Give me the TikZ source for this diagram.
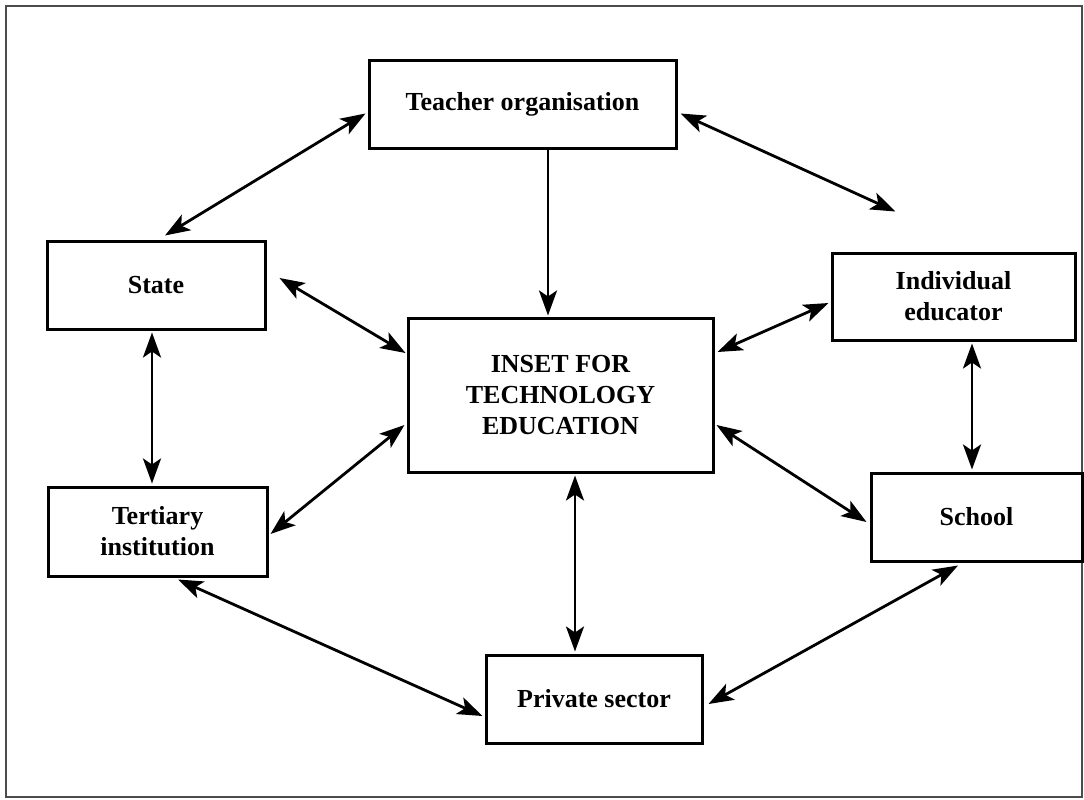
\documentclass[tikz,border=0pt]{standalone}
\usepackage{fontspec}
\setmainfont{Liberation Serif}
\usetikzlibrary{arrows.meta}
\begin{document}
\begin{tikzpicture}[x=1pt,y=-1pt,
  box/.style={draw, line width=3pt, rectangle, inner sep=0pt, align=center,
    font=\bfseries\fontsize{26}{31}\selectfont},
  link/.style={line width=2.8pt, {Stealth[length=25pt,width=18pt,inset=6pt]}-{Stealth[length=25pt,width=18pt,inset=6pt]}},
  oneway/.style={line width=2.8pt, -{Stealth[length=25pt,width=18pt,inset=6pt]}}]
  \useasboundingbox (0,0) rectangle (1084,800);
  % outer frame
  \draw[line width=1.5pt, black!70] (6,6) rectangle (1082,797);

  % boxes
  \node[box, minimum width=307pt, minimum height=87pt] (T) at (522.5,104.5) {Teacher organisation};
  \node[box, minimum width=218pt, minimum height=88pt] (S) at (156,285) {State};
  \node[box, minimum width=243pt, minimum height=87pt] (I) at (953.5,296.5) {Individual\\educator};
  \node[box, minimum width=305pt, minimum height=154pt] (N) at (560.5,395) {INSET FOR\\TECHNOLOGY\\EDUCATION};
  \node[box, minimum width=219pt, minimum height=89pt] (R) at (157.5,531.5) {Tertiary\\institution};
  \node[box, minimum width=211pt, minimum height=88pt] (C) at (976.5,517) {School};
  \node[box, minimum width=216pt, minimum height=88pt] (P) at (594,699) {Private sector};

  % free end near the individual educator box
  \coordinate (Ifree) at ([xshift=-58pt,yshift=40pt]I.north);

  % connectors
  \draw[link] ([xshift=-2pt,yshift=-9pt]T.west) -- ([xshift=9pt,yshift=4pt]S.north);
  \draw[link] ([xshift=3pt,yshift=-9pt]T.east) -- (Ifree);
  \draw[oneway] ([xshift=25.5pt]T.south) -- ([xshift=-12.5pt,yshift=1pt]N.north);
  \draw[link] ([xshift=13pt,yshift=7pt]S.east) -- ([xshift=-1pt,yshift=42pt]N.west);
  \draw[link] ([xshift=-2pt,yshift=-6.5pt]I.west) -- ([xshift=3pt,yshift=43pt]N.east);
  \draw[link] ([xshift=-4pt,yshift=-2pt]S.south) -- ([xshift=-5.5pt,yshift=2pt]R.north);
  \draw[link] ([xshift=18.5pt,yshift=-2pt]I.south) -- ([xshift=-4.5pt,yshift=2pt]C.north);
  \draw[link] ([xshift=2pt,yshift=-2.5pt]R.east) -- ([xshift=-2pt,yshift=-30pt]N.west);
  \draw[link] ([xshift=2pt,yshift=-30pt]N.east) -- ([xshift=-3pt,yshift=-5pt]C.west);
  \draw[link] ([xshift=14.5pt,yshift=-2pt]N.south) -- ([xshift=-19pt,yshift=2pt]P.north);
  \draw[link] ([xshift=20.5pt,yshift=-2pt]R.south) -- ([xshift=-2pt,yshift=-17pt]P.west);
  \draw[link] ([xshift=-18.5pt,yshift=-3pt]C.south) -- ([xshift=5pt,yshift=-5pt]P.east);
\end{tikzpicture}
\end{document}
